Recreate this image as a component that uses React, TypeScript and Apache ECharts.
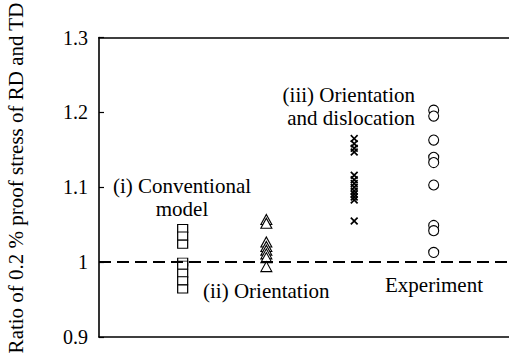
import React, { useEffect, useRef } from "react";
import * as echarts from "echarts";

const yTickLabels = ["0.9", "1", "1.1", "1.2", "1.3"];
const groupX = [1, 2, 3.05, 4.0];
const conventional = [1.045, 1.035, 1.024, 1.0, 0.996, 0.985, 0.975, 0.964];
const orientation = [1.057, 1.052, 1.027, 1.021, 1.016, 1.011, 1.006, 0.994];
const orientDisloc = [1.165, 1.158, 1.152, 1.147, 1.116, 1.11, 1.105, 1.1, 1.095, 1.091, 1.087, 1.083, 1.055];
const experiment = [1.203, 1.195, 1.163, 1.14, 1.133, 1.103, 1.049, 1.042, 1.013];
const referenceRatio = 1.0;

const FONT = "Liberation Serif";
const crossPath =
  "path://M0,1.5L1.5,0L5,3.5L8.5,0L10,1.5L6.5,5L10,8.5L8.5,10L5,6.5L1.5,10L0,8.5L3.5,5Z";

export default function App() {
  const ref = useRef<HTMLDivElement>(null);
  useEffect(() => {
    if (!ref.current) return;
    document.body.style.margin = "0";
    const chart = echarts.init(ref.current, null, { renderer: "svg" });
    const mk = (vals: number[], gx: number) => vals.map((v) => [gx, v]);
    const txt = (text: string, x: number, y: number, align: string, lineHeight = 23) => ({
      type: "text",
      x,
      y,
      style: {
        text,
        fontFamily: FONT,
        fontSize: 21,
        lineHeight,
        fill: "#000",
        textAlign: align,
        textVerticalAlign: "middle",
      },
    });
    chart.setOption({
      animation: false,
      backgroundColor: "#fff",
      textStyle: { fontFamily: FONT },
      grid: { left: 99, right: 0, top: 37.5, bottom: 24, containLabel: false },
      xAxis: [
        {
          type: "value",
          min: 0,
          max: 4.9,
          position: "bottom",
          axisLine: { show: true, onZero: false, lineStyle: { color: "#000", width: 1.6 } },
          axisTick: { show: false },
          axisLabel: { show: false },
          splitLine: { show: false },
        },
        {
          type: "value",
          min: 0,
          max: 4.9,
          position: "top",
          axisLine: { show: true, onZero: false, lineStyle: { color: "#000", width: 1.6 } },
          axisTick: { show: false },
          axisLabel: { show: false },
          splitLine: { show: false },
        },
      ],
      yAxis: {
        type: "value",
        min: 0.9,
        max: 1.3,
        interval: 0.1,
        axisLine: { show: true, onZero: false, lineStyle: { color: "#000", width: 1.6 } },
        axisTick: { show: true, inside: true, length: 5, lineStyle: { color: "#000", width: 1.2 } },
        axisLabel: {
          color: "#000",
          fontFamily: FONT,
          fontSize: 20,
          margin: 11,
          formatter: (_v: number, i: number) => yTickLabels[i],
        },
        splitLine: { show: false },
      },
      series: [
        {
          type: "scatter",
          name: "(i) Conventional model",
          data: mk(conventional, groupX[0]),
          symbol: "rect",
          symbolSize: [10, 8],
          itemStyle: { color: "#fff", borderColor: "#000", borderWidth: 1.1, opacity: 1 },
          markLine: {
            silent: true,
            symbol: "none",
            label: { show: false },
            lineStyle: { color: "#000", width: 2, type: [12, 6] },
            data: [{ yAxis: referenceRatio }],
          },
          z: 3,
        },
        {
          type: "scatter",
          name: "(ii) Orientation",
          data: mk(orientation, groupX[1]),
          symbol: "triangle",
          symbolSize: [11, 10],
          itemStyle: { color: "#fff", borderColor: "#000", borderWidth: 1.1, opacity: 1 },
          z: 3,
        },
        {
          type: "scatter",
          name: "(iii) Orientation and dislocation",
          data: mk(orientDisloc, groupX[2]),
          symbol: crossPath,
          symbolSize: 8,
          itemStyle: { color: "#000", opacity: 1 },
          z: 3,
        },
        {
          type: "scatter",
          name: "Experiment",
          data: mk(experiment, groupX[3]),
          symbol: "circle",
          symbolSize: 10,
          itemStyle: { color: "#fff", borderColor: "#000", borderWidth: 1.1, opacity: 1 },
          z: 3,
        },
      ],
      graphic: [
        {
          type: "text",
          x: 16,
          y: 178,
          rotation: Math.PI / 2,
          style: {
            text: "Ratio of 0.2 % proof stress of RD and TD",
            fontFamily: FONT,
            fontSize: 21,
            fill: "#000",
            textAlign: "center",
            textVerticalAlign: "middle",
          },
        },
        txt("(i) Conventional\nmodel", 182, 197.5, "center", 23),
        txt("(ii) Orientation", 203, 291, "left"),
        txt("(iii) Orientation\nand dislocation", 415, 106, "right", 23),
        txt("Experiment", 385, 285, "left"),
      ],
    });
    return () => chart.dispose();
  }, []);
  return <div ref={ref} style={{ width: 509, height: 361 }} />;
}
